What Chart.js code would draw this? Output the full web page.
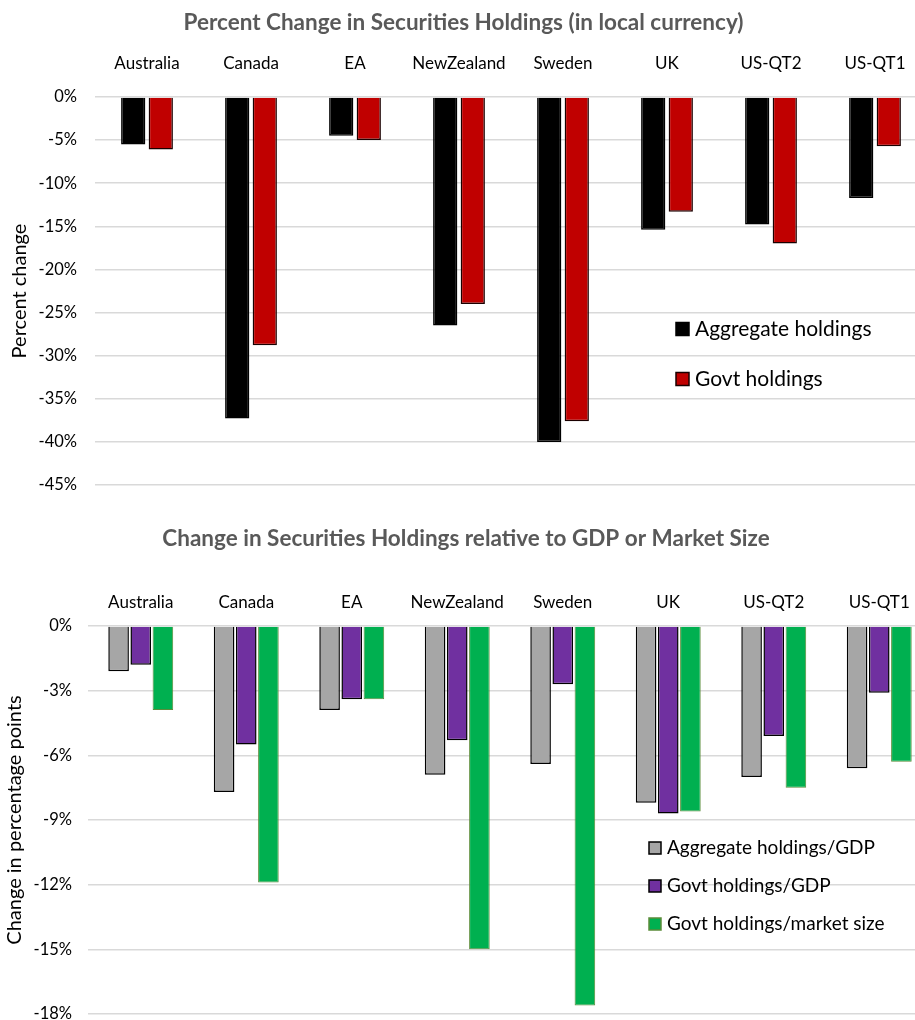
<!DOCTYPE html>
<html>
<head>
<meta charset="utf-8">
<script src="https://cdn.jsdelivr.net/npm/chart.js@4.4.1/dist/chart.umd.min.js"></script>
<style>
  html, body { margin: 0; padding: 0; background: #fff; overflow: hidden; }
  .box { position: relative; width: 935px; }
</style>
</head>
<body>
<div class="box" style="height:500px"><canvas id="chart1" width="927" height="500"></canvas></div>
<div class="box" style="height:520px"><canvas id="chart2" width="932" height="520"></canvas></div>
<script>
// data
const countries = ['Australia', 'Canada', 'EA', 'NewZealand', 'Sweden', 'UK', 'US-QT2', 'US-QT1'];

// top chart: percent change in local currency
const aggregateHoldings = [-5.5, -37.3, -4.5, -26.5, -40.0, -15.4, -14.8, -11.7];
const govtHoldings = [-6.1, -28.8, -5.0, -24.0, -37.6, -13.3, -17.0, -5.7];

// bottom chart: change in percentage points
const aggregateToGdp = [-2.1, -7.7, -3.9, -6.9, -6.4, -8.2, -7.0, -6.6];
const govtToGdp = [-1.8, -5.5, -3.4, -5.3, -2.7, -8.7, -5.1, -3.1];
const govtToMarket = [-3.9, -11.9, -3.4, -15.0, -17.6, -8.6, -7.5, -6.3];

const FONT = 'Lato, "Open Sans", sans-serif';
const TITLE_SIZE = 22.5;

// legend drawn inside the plot area like the Excel original
const insideLegend = {
    id: 'insideLegend',
    afterDraw(chart, args, opts) {
        const ctx = chart.ctx;
        ctx.save();
        ctx.font = opts.size + 'px ' + FONT;
        ctx.textBaseline = 'middle';
        chart.data.datasets.forEach((ds, i) => {
            const y = opts.y + i * opts.gap;
            ctx.fillStyle = ds.backgroundColor;
            ctx.fillRect(opts.x, y - opts.box / 2, opts.box, opts.box);
            ctx.strokeStyle = ds.borderColor;
            ctx.lineWidth = 1.5;
            ctx.strokeRect(opts.x, y - opts.box / 2, opts.box, opts.box);
            ctx.fillStyle = '#000';
            ctx.fillText(ds.label, opts.x + opts.box + 6, y);
        });
        ctx.restore();
    }
};

const makeOptions = (cfg) => ({
    responsive: false,
    animation: false,
    layout: { padding: { left: 0, right: 0, top: 0, bottom: cfg.padBottom } },
    plugins: {
        legend: { display: false },
        tooltip: { enabled: false },
        title: {
            display: true,
            text: cfg.title,
            color: '#595959',
            font: { family: FONT, size: TITLE_SIZE, weight: 'bold' },
            padding: { top: cfg.titleTop, bottom: 0 }
        },
        insideLegend: cfg.legend
    },
    scales: {
        x: {
            position: 'top',
            grid: { display: false },
            border: { display: false },
            ticks: { color: '#000', font: { family: FONT, size: 17 }, padding: cfg.xPad, maxRotation: 0 },
            afterFit: (s) => { s.height = cfg.areaTop - cfg.titleTop - TITLE_SIZE * 1.2; }
        },
        y: {
            min: cfg.min,
            max: 0,
            grid: { color: '#d9d9d9', lineWidth: 1.5, drawTicks: false },
            border: { display: false },
            ticks: {
                stepSize: cfg.step,
                color: '#000',
                font: { family: FONT, size: 16.5 },
                padding: cfg.yPad,
                callback: (v) => v + '%'
            },
            title: {
                display: true,
                text: cfg.yTitle,
                color: '#000',
                font: { family: FONT, size: 20 },
                padding: { top: cfg.yTitlePad, bottom: 0 }
            },
            afterFit: (s) => {
                s.width = cfg.yWidth;
                s.paddingTop = 0;
                s.paddingBottom = 0;
            }
        }
    }
});

new Chart(document.getElementById('chart1'), {
    type: 'bar',
    data: {
        labels: countries,
        datasets: [{
            label: 'Aggregate holdings',
            data: aggregateHoldings,
            backgroundColor: '#000000',
            borderColor: '#000000',
            borderWidth: 1.5,
            barPercentage: 0.88,
            categoryPercentage: 0.53
        }, {
            label: 'Govt holdings',
            data: govtHoldings,
            backgroundColor: '#c00000',
            borderColor: '#1a0000',
            borderWidth: 1.5,
            barPercentage: 0.88,
            categoryPercentage: 0.53
        }]
    },
    options: makeOptions({
        title: 'Percent Change in Securities Holdings (in local currency)',
        titleTop: 9, areaTop: 97, xPad: 15.5, padBottom: 15,
        min: -45, step: 5, yPad: 18, yWidth: 95, yTitlePad: 8,
        yTitle: 'Percent change',
        legend: { x: 676, y: 329, gap: 50, box: 13, size: 21 }
    }),
    plugins: [insideLegend]
});

new Chart(document.getElementById('chart2'), {
    type: 'bar',
    data: {
        labels: countries,
        datasets: [{
            label: 'Aggregate holdings/GDP',
            data: aggregateToGdp,
            backgroundColor: '#a6a6a6',
            borderColor: '#000000',
            borderWidth: 1.5,
            barPercentage: 0.93,
            categoryPercentage: 0.63
        }, {
            label: 'Govt holdings/GDP',
            data: govtToGdp,
            backgroundColor: '#7030a0',
            borderColor: '#000000',
            borderWidth: 1.5,
            barPercentage: 0.93,
            categoryPercentage: 0.63
        }, {
            label: 'Govt holdings/market size',
            data: govtToMarket,
            backgroundColor: '#00b050',
            borderColor: '#5b8c3a',
            borderWidth: 1,
            barPercentage: 0.93,
            categoryPercentage: 0.63
        }]
    },
    options: makeOptions({
        title: 'Change in Securities Holdings relative to GDP or Market Size',
        titleTop: 25, areaTop: 126, xPad: 5.5, padBottom: 6,
        min: -18, step: 3, yPad: 16, yWidth: 88, yTitlePad: 3,
        yTitle: 'Change in percentage points',
        legend: { x: 649, y: 348, gap: 38, box: 12, size: 19 }
    }),
    plugins: [insideLegend]
});
</script>
</body>
</html>
